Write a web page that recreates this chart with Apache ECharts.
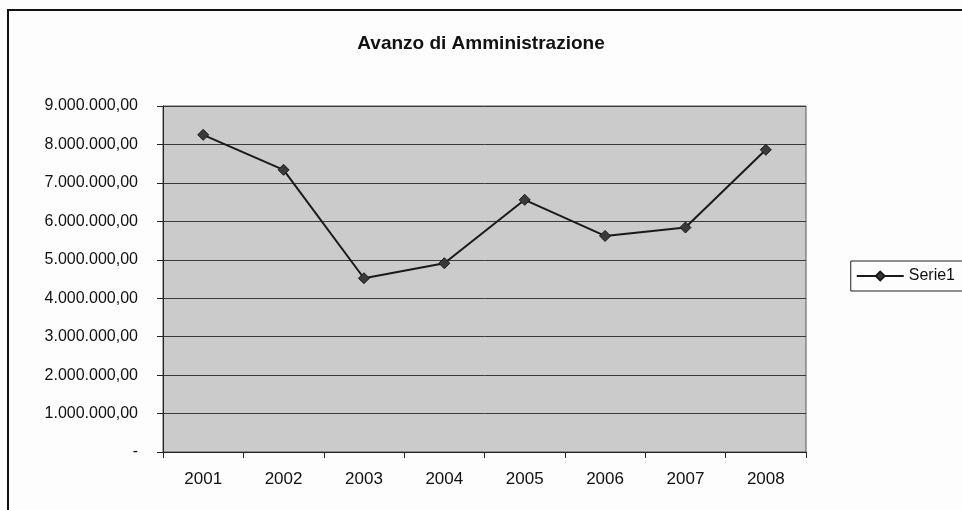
<!DOCTYPE html>
<html>
<head>
<meta charset="utf-8">
<script src="https://cdn.jsdelivr.net/npm/echarts@6/dist/echarts.min.js"></script>
<style>
html,body{margin:0;padding:0;background:#fdfdfd;}
#main{width:962px;height:510px;}
</style>
</head>
<body>
<div id="main"></div>
<script>
const categories = ['2001','2002','2003','2004','2005','2006','2007','2008'];
const serie1 = [8250000, 7340000, 4520000, 4910000, 6560000, 5620000, 5840000, 7860000];
const titleText = 'Avanzo di Amministrazione';
const seriesName = 'Serie1';

function fmt(v){
  if (v === 0) return '-';
  const s = Math.round(v).toString().replace(/\B(?=(\d{3})+(?!\d))/g, '.');
  return s + ',00';
}

const chart = echarts.init(document.getElementById('main'));
chart.setOption({
  backgroundColor: '#fdfdfd',
  animation: false,
  title: {
    text: titleText,
    left: 'center',
    top: 29,
    textStyle: {fontFamily: 'Liberation Sans', fontWeight: 'bold', fontSize: 19, color: '#111'}
  },
  graphic: [{
    type: 'rect',
    shape: {x: 8, y: 10, width: 1000, height: 600},
    style: {fill: 'none', stroke: '#111', lineWidth: 2},
    silent: true
  }],
  legend: {
    data: [seriesName],
    right: -23,
    top: 261,
    orient: 'vertical',
    borderColor: '#222',
    borderWidth: 1,
    padding: [7, 30, 7, 5],
    itemWidth: 47,
    itemHeight: 11,
    itemGap: 0,
    textStyle: {fontFamily: 'Liberation Sans', fontSize: 16, color: '#111'}
  },
  grid: {
    left: 163, right: 156, top: 106, bottom: 58,
    show: true,
    backgroundColor: '#cbcbcb',
    borderColor: '#555',
    borderWidth: 1
  },
  xAxis: {
    type: 'category',
    data: categories,
    boundaryGap: true,
    axisLine: {lineStyle: {color: '#222', width: 1}},
    axisTick: {show: true, length: 6, lineStyle: {color: '#222'}},
    axisLabel: {fontFamily: 'Liberation Sans', fontSize: 17, color: '#111', margin: 19}
  },
  yAxis: {
    type: 'value',
    min: 0, max: 9000000, interval: 1000000,
    axisLine: {show: true, lineStyle: {color: '#222', width: 1}},
    axisTick: {show: true, length: 6, lineStyle: {color: '#222'}},
    splitLine: {show: true, lineStyle: {color: '#3a3a3a', width: 1}},
    axisLabel: {
      fontFamily: 'Liberation Sans', fontSize: 16, color: '#111', margin: 25,
      formatter: fmt
    }
  },
  series: [{
    name: seriesName,
    type: 'line',
    data: serie1,
    symbol: 'diamond',
    symbolSize: 11,
    lineStyle: {color: '#1a1a1a', width: 2},
    itemStyle: {color: '#3a3a3a', borderColor: '#1a1a1a', borderWidth: 1}
  }]
});
</script>
</body>
</html>
